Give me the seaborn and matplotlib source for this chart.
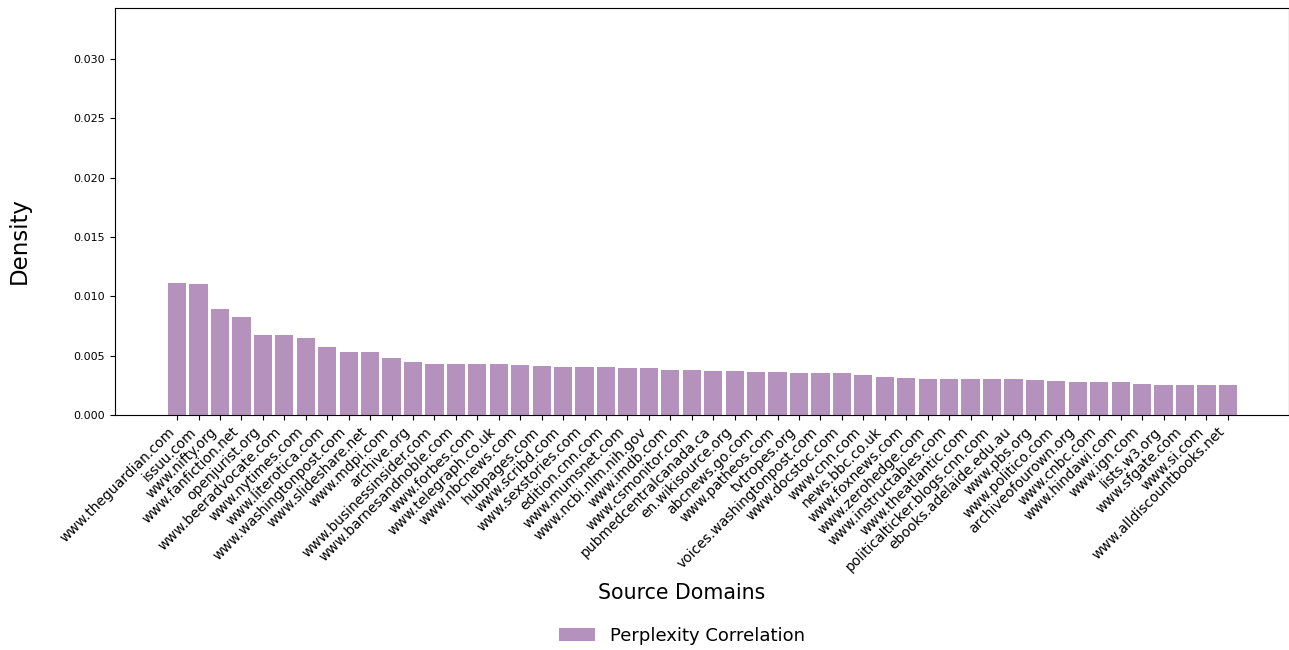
import matplotlib
matplotlib.use("Agg")
import matplotlib.pyplot as plt
import seaborn as sns
import pandas as pd

domains = [
    "www.theguardian.com", "issuu.com", "www.nifty.org", "www.fanfiction.net",
    "openjurist.org", "www.beeradvocate.com", "www.nytimes.com", "www.literotica.com",
    "www.washingtonpost.com", "www.slideshare.net", "www.mdpi.com", "archive.org",
    "www.businessinsider.com", "www.barnesandnoble.com", "www.forbes.com",
    "www.telegraph.co.uk", "www.nbcnews.com", "hubpages.com", "www.scribd.com",
    "www.sexstories.com", "edition.cnn.com", "www.mumsnet.com", "www.ncbi.nlm.nih.gov",
    "www.imdb.com", "www.csmonitor.com", "pubmedcentralcanada.ca", "en.wikisource.org",
    "abcnews.go.com", "www.patheos.com", "tvtropes.org", "voices.washingtonpost.com",
    "www.docstoc.com", "www.cnn.com", "news.bbc.co.uk", "www.foxnews.com",
    "www.zerohedge.com", "www.instructables.com", "www.theatlantic.com",
    "politicalticker.blogs.cnn.com", "ebooks.adelaide.edu.au", "www.pbs.org",
    "www.politico.com", "archiveofourown.org", "www.cnbc.com", "www.hindawi.com",
    "www.ign.com", "lists.w3.org", "www.sfgate.com", "www.si.com",
    "www.alldiscountbooks.net",
]

density = [
    0.01112, 0.01104, 0.00893, 0.00826, 0.00674, 0.00674, 0.00649, 0.00573,
    0.00531, 0.00531, 0.00480, 0.00447, 0.00430, 0.00430, 0.00430, 0.00430,
    0.00421, 0.00413, 0.00404, 0.00404, 0.00404, 0.00396, 0.00396, 0.00379,
    0.00379, 0.00371, 0.00371, 0.00362, 0.00362, 0.00354, 0.00354, 0.00354,
    0.00337, 0.00320, 0.00312, 0.00303, 0.00303, 0.00303, 0.00303, 0.00303,
    0.00295, 0.00287, 0.00278, 0.00278, 0.00278, 0.00261, 0.00253, 0.00253,
    0.00253, 0.00253,
]

df = pd.DataFrame({"domain": domains, "density": density})

fig = plt.figure(figsize=(12.89, 6.5), dpi=100)
ax = fig.add_axes([0.0892, 0.3615, 0.9108, 0.6262])

sns.barplot(data=df, x="domain", y="density", color="#B592BE", saturation=1,
            width=0.85, label="Perplexity Correlation", ax=ax)

ax.set_xlim(-2.9, 51.85)
ax.set_ylim(0, 0.0343)
ax.tick_params(axis="y", labelsize=8)
ax.set_xticks(range(len(domains)))
ax.set_xticklabels(domains, rotation=45, ha="right", fontsize=10)
ax.set_xlabel("Source Domains", fontsize=14.8, labelpad=6.5, x=0.483)
ax.set_ylabel("Density", fontsize=16.5)
ax.yaxis.set_label_coords(-0.0716, 0.4275)

ax.legend(loc="center", bbox_to_anchor=(0.483, -0.543), frameon=False, fontsize=13)

fig.savefig("out.png", dpi=100)
